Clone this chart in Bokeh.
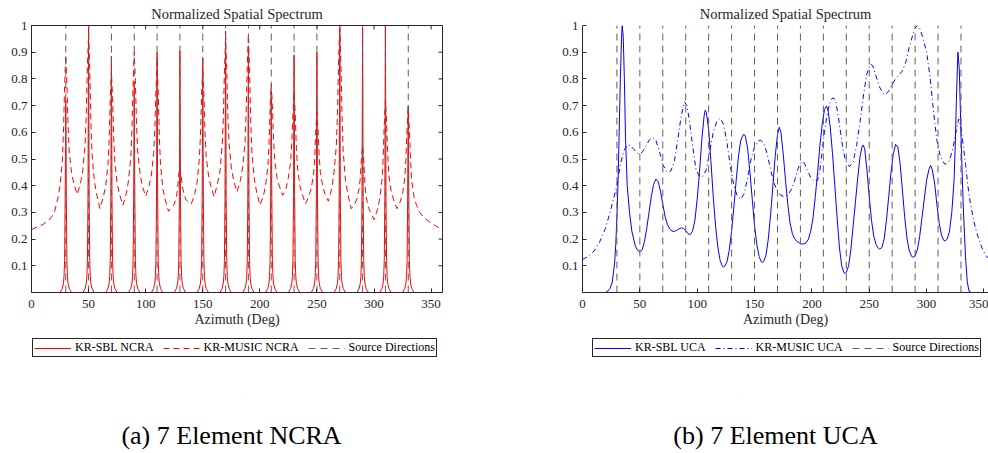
import math
from bokeh.plotting import figure
from bokeh.models import (Range1d, FixedTicker, CustomJSTickFormatter, Legend, LegendItem)
from bokeh.core.properties import value
from bokeh.layouts import row, column
from bokeh.embed import file_html
from bokeh.resources import INLINE

FONT = "Liberation Serif"
AX = "#262626"
SRC_COLOR = "#5f5f5f"

# ---------------- data ----------------
source_dirs = [30, 50, 70, 90, 110, 130, 150, 170, 190, 210, 230, 250, 270, 290, 310, 330]
x_ticks = [0, 50, 100, 150, 200, 250, 300, 350]
y_ticks = [0.1, 0.2, 0.3, 0.4, 0.5, 0.6, 0.7, 0.8, 0.9, 1.0]

# KR-SBL NCRA: narrow peaks at each source direction
sbl_ncra_peak = [0.72, 1.0, 0.885, 0.79, 0.90, 0.905, 0.88, 0.98, 0.92, 0.755,
                 0.89, 0.90, 0.99, 0.99, 1.0, 0.70]
sbl_ncra_offsets = [-5, -3, -2, -1.5, -1, -0.5, 0, 0.5, 1, 1.5, 2, 3, 5]
sbl_ncra_flank = [0, 0.015, 0.035, 0.06, 0.12, 0.36, None, 0.36, 0.12, 0.06, 0.035, 0.015, 0]

# KR-MUSIC NCRA
music_ncra_left_x = [0, 5, 10, 15, 18, 20]
music_ncra_left_y = [0.236, 0.245, 0.255, 0.27, 0.285, 0.30]
music_ncra_offsets = [-7, -5, -3, -2, -1, 0, 1, 2, 3, 5, 7]
music_ncra_peaks = [
    [0.35, 0.40, 0.49, 0.60, 0.77, 0.89, 0.78, 0.63, 0.53, 0.45, 0.41],
    [0.41, 0.46, 0.56, 0.67, 0.85, 0.97, 0.84, 0.64, 0.52, 0.42, 0.37],
    [0.36, 0.40, 0.48, 0.57, 0.73, 0.83, 0.73, 0.58, 0.49, 0.41, 0.37],
    [0.37, 0.42, 0.51, 0.61, 0.79, 0.90, 0.79, 0.63, 0.53, 0.45, 0.40],
    [0.40, 0.44, 0.52, 0.61, 0.76, 0.86, 0.75, 0.58, 0.48, 0.39, 0.35],
    [0.32, 0.33, 0.36, 0.39, 0.44, 0.47, 0.44, 0.40, 0.38, 0.35, 0.34],
    [0.37, 0.41, 0.50, 0.59, 0.74, 0.84, 0.74, 0.60, 0.51, 0.44, 0.40],
    [0.41, 0.45, 0.55, 0.65, 0.83, 0.95, 0.84, 0.66, 0.56, 0.47, 0.42],
    [0.42, 0.47, 0.56, 0.67, 0.85, 0.965, 0.84, 0.65, 0.53, 0.43, 0.38],
    [0.36, 0.40, 0.47, 0.55, 0.69, 0.78, 0.70, 0.57, 0.50, 0.43, 0.40],
    [0.39, 0.43, 0.49, 0.56, 0.67, 0.75, 0.67, 0.54, 0.47, 0.40, 0.37],
    [0.36, 0.39, 0.44, 0.50, 0.61, 0.675, 0.61, 0.51, 0.45, 0.40, 0.37],
    [0.39, 0.45, 0.55, 0.67, 0.87, 1.0, 0.86, 0.66, 0.53, 0.42, 0.37],
    [0.33, 0.35, 0.39, 0.43, 0.50, 0.55, 0.50, 0.41, 0.36, 0.32, 0.30],
    [0.31, 0.35, 0.42, 0.50, 0.63, 0.72, 0.64, 0.52, 0.44, 0.38, 0.35],
    [0.34, 0.37, 0.43, 0.50, 0.62, 0.69, 0.61, 0.50, 0.42, 0.36, 0.33],
]
music_ncra_valley_y = [0.367, 0.314, 0.326, 0.36, 0.304, 0.332, 0.358, 0.376,
                       0.327, 0.364, 0.332, 0.342, 0.314, 0.273, 0.314]
music_ncra_right_x = [340, 344, 350, 355, 360]
music_ncra_right_y = [0.30, 0.28, 0.26, 0.247, 0.236]

# KR-SBL UCA
sbl_uca_x = [0, 20, 22, 24, 26, 28, 29, 30, 31, 32, 33, 34, 34.6, 35.5, 36.5, 37.5, 39, 41, 43, 46,
             48, 50, 52, 54, 56, 58, 60, 62, 64, 66, 68, 70, 72, 74, 76, 78, 80, 82, 84, 86,
             88, 90, 92, 94, 96, 98, 100, 102, 104, 106, 107, 108, 110, 112, 114, 116, 118, 120, 122, 123,
             124, 126, 128, 130, 132, 134, 136, 138, 140, 141, 142, 144, 146, 148, 150, 152, 154, 156, 157, 158,
             160, 162, 164, 166, 168, 170, 171.5, 173, 175, 177, 179, 181, 183, 185, 188, 191, 193, 195, 197, 199,
             201, 203, 205, 207, 209, 211, 212.7, 214, 216, 218, 220, 222, 224, 226, 228, 229, 230, 232, 234, 236,
             238, 240, 242, 244, 244.5, 246, 248, 250, 252, 254, 256, 258, 259, 261, 263, 265, 267, 269, 271, 273,
             275, 277, 279, 281, 283, 285, 287, 288.5, 290, 292, 294, 296, 298, 300, 302, 303.5, 305, 307, 309, 311,
             313, 315, 316, 318, 320, 322, 324, 325, 326, 327.3, 328.5, 329.5, 330.5, 332, 334, 335.5, 337, 339, 360]
sbl_uca_y = [0, 0, 0.005, 0.015, 0.04, 0.11, 0.18, 0.28, 0.42, 0.60, 0.80, 0.95, 1.0, 0.96, 0.80, 0.58, 0.40, 0.30, 0.23, 0.175,
             0.158, 0.152, 0.16, 0.19, 0.24, 0.30, 0.36, 0.405, 0.425, 0.415, 0.38, 0.33, 0.285, 0.255, 0.238, 0.23, 0.229, 0.232, 0.238, 0.242,
             0.24, 0.232, 0.22, 0.217, 0.23, 0.27, 0.35, 0.45, 0.57, 0.66, 0.683, 0.675, 0.61, 0.49, 0.36, 0.25, 0.17, 0.12, 0.098, 0.096,
             0.098, 0.115, 0.16, 0.23, 0.32, 0.42, 0.51, 0.57, 0.59, 0.592, 0.585, 0.54, 0.45, 0.35, 0.25, 0.18, 0.135, 0.114, 0.113, 0.116,
             0.14, 0.20, 0.29, 0.40, 0.51, 0.59, 0.619, 0.60, 0.52, 0.42, 0.33, 0.26, 0.22, 0.20, 0.188, 0.182, 0.182, 0.186, 0.20, 0.23,
             0.28, 0.36, 0.45, 0.55, 0.63, 0.685, 0.698, 0.685, 0.62, 0.52, 0.40, 0.28, 0.17, 0.10, 0.074, 0.072, 0.075, 0.10, 0.16, 0.25,
             0.34, 0.43, 0.51, 0.55, 0.553, 0.54, 0.46, 0.36, 0.27, 0.21, 0.18, 0.165, 0.163, 0.168, 0.20, 0.27, 0.36, 0.45, 0.52, 0.555,
             0.545, 0.48, 0.38, 0.28, 0.20, 0.155, 0.135, 0.132, 0.137, 0.16, 0.21, 0.28, 0.35, 0.42, 0.46, 0.476, 0.46, 0.41, 0.33, 0.26,
             0.215, 0.195, 0.193, 0.20, 0.23, 0.30, 0.42, 0.55, 0.72, 0.90, 0.84, 0.68, 0.52, 0.32, 0.13, 0.04, 0.005, 0, 0]

# KR-MUSIC UCA
music_uca_x = [0, 5, 10, 15, 20, 24, 27, 30, 33, 36, 39, 42, 45, 48, 50, 52, 55, 58, 61, 64,
               67, 70, 73, 75, 77, 80, 83, 86, 89, 91, 93, 96, 99, 102, 105, 108, 111, 114, 117, 120,
               123, 126, 129, 132, 135, 138, 141, 144, 147, 150, 153, 155, 158, 161, 164, 167, 170, 173, 176, 179,
               182, 185, 188, 191, 193, 196, 199, 202, 205, 207, 209, 211, 213, 215, 217, 219, 221, 223, 225, 227,
               229, 231, 233, 236, 239, 242, 245, 248, 251, 253, 256, 259, 262, 264, 267, 270, 273, 276, 279, 282,
               285, 288, 290, 292, 294, 297, 300, 303, 306, 309, 312, 315, 317, 320, 323, 326, 328, 330, 332, 334,
               336, 338, 341, 344, 348, 352, 356, 360]
music_uca_y = [0.124, 0.135, 0.155, 0.19, 0.24, 0.30, 0.35, 0.40, 0.48, 0.53, 0.553, 0.55, 0.535, 0.522, 0.52, 0.525, 0.545, 0.57, 0.58, 0.57,
               0.53, 0.48, 0.455, 0.45, 0.455, 0.49, 0.57, 0.66, 0.714, 0.70, 0.65, 0.55, 0.46, 0.435, 0.435, 0.46, 0.53, 0.60, 0.64, 0.652,
               0.63, 0.56, 0.47, 0.40, 0.36, 0.35, 0.37, 0.43, 0.50, 0.545, 0.567, 0.571, 0.56, 0.52, 0.46, 0.41, 0.38, 0.363, 0.36, 0.365,
               0.385, 0.42, 0.465, 0.49, 0.488, 0.46, 0.43, 0.416, 0.42, 0.46, 0.53, 0.60, 0.66, 0.70, 0.725, 0.729, 0.71, 0.66, 0.60, 0.54,
               0.50, 0.48, 0.472, 0.49, 0.55, 0.64, 0.74, 0.82, 0.855, 0.85, 0.81, 0.77, 0.745, 0.741, 0.755, 0.78, 0.80, 0.815, 0.83, 0.865,
               0.92, 0.965, 0.99, 1.0, 0.99, 0.95, 0.90, 0.81, 0.68, 0.57, 0.51, 0.485, 0.48, 0.495, 0.54, 0.61, 0.65, 0.62, 0.55, 0.48,
               0.40, 0.34, 0.27, 0.22, 0.17, 0.135, 0.125, 0.12]

captions = ["(a) 7 Element NCRA", "(b) 7 Element UCA"]
legend_labels = [["KR-SBL NCRA", "KR-MUSIC NCRA", "Source Directions"],
                 ["KR-SBL UCA", "KR-MUSIC UCA", "Source Directions"]]

# ---------------- assemble curves ----------------
sbl_ncra_x, sbl_ncra_y = [0], [0]
for c, h in zip(source_dirs, sbl_ncra_peak):
    for o, f in zip(sbl_ncra_offsets, sbl_ncra_flank):
        sbl_ncra_x.append(c + o)
        sbl_ncra_y.append(h if f is None else f)
sbl_ncra_x.append(360)
sbl_ncra_y.append(0)

music_ncra_x = list(music_ncra_left_x)
music_ncra_y = list(music_ncra_left_y)
for i, (c, vals) in enumerate(zip(source_dirs, music_ncra_peaks)):
    for o, v in zip(music_ncra_offsets, vals):
        music_ncra_x.append(c + o)
        music_ncra_y.append(v)
    if i < len(music_ncra_valley_y):
        music_ncra_x.append(c + 10)
        music_ncra_y.append(music_ncra_valley_y[i])
music_ncra_x += music_ncra_right_x
music_ncra_y += music_ncra_right_y

TOP_H = 335
BOT_H = 453 - TOP_H
FRAME_BOTTOM = 292


def make_panel(x_end, left, right, boxed):
    p = figure(width=494, height=TOP_H, x_range=Range1d(0, x_end), y_range=Range1d(0, 1),
               output_backend="svg", toolbar_location=None,
               min_border_left=left, min_border_right=right,
               min_border_top=23, min_border_bottom=TOP_H - FRAME_BOTTOM,
               title="Normalized Spatial Spectrum")
    p.title.align = "center"
    p.title.text_font = FONT
    p.title.text_font_size = "14.5px"
    p.title.text_font_style = "normal"
    p.title.text_color = AX
    p.title.standoff = 7
    p.grid.visible = False
    p.background_fill_color = "white"
    p.border_fill_color = "white"
    p.outline_line_color = AX if boxed else None

    p.xaxis.ticker = FixedTicker(ticks=x_ticks)
    p.yaxis.ticker = FixedTicker(ticks=y_ticks)
    p.yaxis.formatter = CustomJSTickFormatter(code="return String(Math.round(tick*10)/10);")
    for ax in (p.xaxis[0], p.yaxis[0]):
        ax.axis_line_color = AX
        ax.major_tick_line_color = AX
        ax.major_tick_in = 4
        ax.major_tick_out = 0
        ax.minor_tick_line_color = None
        ax.major_label_text_font = FONT
        ax.major_label_text_font_size = "13px"
        ax.major_label_text_color = AX
    p.xaxis.major_label_standoff = 7
    p.yaxis.major_label_standoff = 4
    p.xaxis.axis_label = "Azimuth (Deg)"
    p.xaxis.axis_label_text_font = FONT
    p.xaxis.axis_label_text_font_size = "14px"
    p.xaxis.axis_label_text_font_style = "normal"
    p.xaxis.axis_label_text_color = AX
    p.xaxis.axis_label_standoff = 1

    if boxed:
        # inward ticks on the top and right edges of the box (half of each dash is clipped)
        p.scatter(x=x_ticks, y=[1] * len(x_ticks), marker="dash", size=8, angle=math.pi / 2,
                  line_color=AX, line_width=1)
        p.scatter(x=[x_end] * len(y_ticks), y=y_ticks, marker="dash", size=8,
                  line_color=AX, line_width=1)
    return p


def make_footer(styles, labels, caption, legend_x, cap_x):
    f = figure(width=494, height=BOT_H, x_range=Range1d(0, 1), y_range=Range1d(0, 1),
               output_backend="svg", toolbar_location=None,
               min_border_left=0, min_border_right=0, min_border_top=0, min_border_bottom=0,
               x_axis_type=None, y_axis_type=None)
    f.grid.visible = False
    f.outline_line_color = None
    f.background_fill_color = "white"
    f.border_fill_color = "white"
    # legend proxies: zero-length lines, so only their legend glyphs are visible
    rs = [f.line(x=[0.5, 0.5], y=[0.5, 0.5], **st) for st in styles]
    legend = Legend(items=[LegendItem(label=l, renderers=[r]) for l, r in zip(labels, rs)],
                    orientation="horizontal", location=(legend_x, 453 - 357),
                    border_line_color=AX, border_line_width=1, border_line_alpha=1,
                    padding=1, margin=0, spacing=9, glyph_width=37, glyph_height=12,
                    label_height=12, label_standoff=4, label_text_font=FONT,
                    label_text_font_size="12px", label_text_color="black",
                    background_fill_color="white")
    f.add_layout(legend, "center")
    f.text(x=[cap_x], y=[18 / BOT_H], text=[caption], text_font=value(FONT),
           text_font_size="26px", text_align="center", text_baseline="middle",
           text_color="black")
    return f


red_solid = dict(line_color="#ff0000", line_width=1)
red_dash = dict(line_color="#ff0000", line_width=1, line_dash="6 4")
blue_solid = dict(line_color="#0000ff", line_width=1)
blue_dashdot = dict(line_color="#0000ff", line_width=1, line_dash="5 3 1 3")
src_style = dict(line_color=SRC_COLOR, line_width=1, line_dash="7 5")

# ---------------- left: NCRA ----------------
p1 = make_panel(360, 31, 52, True)
p1.line(sbl_ncra_x, sbl_ncra_y, **red_solid)
p1.line(music_ncra_x, music_ncra_y, **red_dash)
p1.segment(x0=source_dirs, y0=[0] * len(source_dirs), x1=source_dirs, y1=[1] * len(source_dirs),
           **src_style)
f1 = make_footer([red_solid, red_dash, src_style], legend_labels[0], captions[0], 32, 231 / 494)

# ---------------- right: UCA ----------------
p2 = make_panel(354, 88, 0, False)
p2.line(sbl_uca_x, sbl_uca_y, **blue_solid)
p2.line(music_uca_x, music_uca_y, **blue_dashdot)
p2.segment(x0=source_dirs, y0=[0] * len(source_dirs), x1=source_dirs, y1=[1] * len(source_dirs),
           **src_style)
f2 = make_footer([blue_solid, blue_dashdot, src_style], legend_labels[1], captions[1], 98, 281 / 494)

layout = column(row(p1, p2), row(f1, f2))
open("out.html", "w").write(file_html(layout, INLINE))
